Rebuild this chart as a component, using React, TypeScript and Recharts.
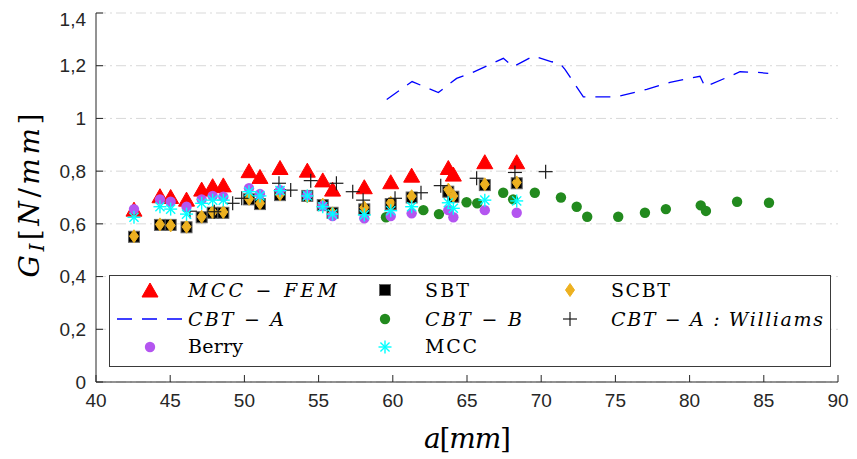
import React from 'react';
import { ScatterChart, Scatter, XAxis, YAxis, CartesianGrid, Legend, Label } from 'recharts';

// Crack lengths a [mm] shared by the experimental / analytical series
const crackLength = [42.56, 44.31, 45.03, 46.1, 47.12, 47.86, 48.58, 50.31, 51.05, 52.4, 54.24, 55.28, 55.94, 58.08, 59.86, 61.27, 63.74, 64.08, 66.2, 68.35];

const mccFemG = [0.652, 0.703, 0.7, 0.69, 0.728, 0.741, 0.744, 0.798, 0.776, 0.81, 0.8, 0.763, 0.728, 0.737, 0.756, 0.781, 0.81, 0.785, 0.832, 0.832];
const sbtG = [0.551, 0.596, 0.596, 0.587, 0.625, 0.642, 0.642, 0.693, 0.675, 0.709, 0.706, 0.671, 0.642, 0.655, 0.675, 0.7, 0.722, 0.703, 0.747, 0.754];
const scbtG = [0.553, 0.598, 0.594, 0.589, 0.627, 0.645, 0.645, 0.695, 0.678, 0.712, 0.704, 0.673, 0.64, 0.662, 0.68, 0.705, 0.73, 0.706, 0.75, 0.757];
const berryG = [0.656, 0.693, 0.684, 0.665, 0.693, 0.706, 0.703, 0.735, 0.713, 0.728, 0.709, 0.668, 0.63, 0.621, 0.63, 0.64, 0.652, 0.625, 0.652, 0.642];
const mccG = [0.625, 0.665, 0.656, 0.637, 0.678, 0.69, 0.69, 0.722, 0.706, 0.726, 0.706, 0.665, 0.637, 0.634, 0.65, 0.665, 0.68, 0.659, 0.69, 0.687];

// CBT - B
const cbtBA = [59.54, 62.06, 63.11, 64.97, 65.69, 67.44, 68.11, 69.57, 71.33, 72.39, 73.1, 75.19, 76.99, 78.4, 80.75, 81.1, 83.2, 85.35];
const cbtBG = [0.625, 0.652, 0.637, 0.682, 0.678, 0.718, 0.693, 0.718, 0.7, 0.665, 0.627, 0.627, 0.642, 0.656, 0.67, 0.649, 0.684, 0.68];

// CBT - A : Williams
const williamsA = [46.33, 47.97, 49.21, 49.82, 52.33, 53.12, 54.47, 56.2, 57.3, 58.0, 60.15, 61.9, 63.23, 65.65, 68.23, 70.3];
const williamsG = [0.648, 0.646, 0.678, 0.697, 0.754, 0.728, 0.764, 0.754, 0.722, 0.69, 0.697, 0.718, 0.745, 0.773, 0.795, 0.798];

// CBT - A (curve)
const cbtAA = [59.59, 61.3, 63.07, 64.3, 65.3, 67.45, 68.12, 69.47, 70.71, 71.27, 71.6, 72.84, 75.09, 77.11, 78.68, 80.7, 81.04, 83.4, 84.52, 85.3];
const cbtAG = [1.072, 1.14, 1.098, 1.152, 1.172, 1.228, 1.196, 1.237, 1.215, 1.209, 1.186, 1.082, 1.082, 1.11, 1.137, 1.16, 1.12, 1.177, 1.175, 1.171];

const xTicks = [40, 45, 50, 55, 60, 65, 70, 75, 80, 85, 90];
const yTicks = [0, 0.2, 0.4, 0.6, 0.8, 1, 1.2, 1.4];

const legendNames = ['MCC \u2212 FEM', 'SBT', 'SCBT', 'CBT \u2212 A', 'CBT \u2212 B', 'CBT \u2212 A : Williams', 'Berry', 'MCC'];

const zip = (xs: number[], ys: number[]) => xs.map((x, i) => ({ x, y: ys[i] }));

const mccFem = zip(crackLength, mccFemG);
const sbt = zip(crackLength, sbtG);
const scbt = zip(crackLength, scbtG);
const berry = zip(crackLength, berryG);
const mcc = zip(crackLength, mccG);
const cbtB = zip(cbtBA, cbtBG);
const williams = zip(williamsA, williamsG);
const cbtA = zip(cbtAA, cbtAG);

const RED = '#ff0000';
const GOLD = '#EDB120';
const PURPLE = '#b455f0';
const GREEN = '#228a1e';
const CYAN = '#00ffff';
const BLUE = '#0000ff';
const AXIS = '#262626';

const SERIF = 'DejaVu Serif';
const SANS = 'Liberation Sans';

// Marker glyphs
const tri = (cx: number, cy: number) => (
  <polygon points={`${cx},${cy - 8} ${cx - 8},${cy + 6} ${cx + 8},${cy + 6}`} fill={RED} stroke={RED} strokeWidth={1} />
);
const sq = (cx: number, cy: number) => (
  <rect x={cx - 5.5} y={cy - 5.5} width={11} height={11} fill="#000" stroke="#666" strokeWidth={1} />
);
const dia = (cx: number, cy: number) => (
  <polygon points={`${cx},${cy - 6.5} ${cx + 4.5},${cy} ${cx},${cy + 6.5} ${cx - 4.5},${cy}`} fill={GOLD} stroke={GOLD} strokeWidth={1} />
);
const dot = (cx: number, cy: number, color: string) => <circle cx={cx} cy={cy} r={5.2} fill={color} />;
const star = (cx: number, cy: number, s = 6.5) => (
  <g stroke={CYAN} strokeWidth={1.4}>
    <line x1={cx - s} y1={cy} x2={cx + s} y2={cy} />
    <line x1={cx} y1={cy - s} x2={cx} y2={cy + s} />
    <line x1={cx - s * 0.7} y1={cy - s * 0.7} x2={cx + s * 0.7} y2={cy + s * 0.7} />
    <line x1={cx - s * 0.7} y1={cy + s * 0.7} x2={cx + s * 0.7} y2={cy - s * 0.7} />
  </g>
);
const plus = (cx: number, cy: number) => (
  <g stroke="#1a1a1a" strokeWidth={1.2}>
    <line x1={cx - 7} y1={cy} x2={cx + 7} y2={cy} />
    <line x1={cx} y1={cy - 7} x2={cx} y2={cy + 7} />
  </g>
);

const TriShape = (p: any) => tri(p.cx, p.cy);
const SqShape = (p: any) => sq(p.cx, p.cy);
const DiaShape = (p: any) => dia(p.cx, p.cy);
const BerryShape = (p: any) => dot(p.cx, p.cy, PURPLE);
const GreenShape = (p: any) => dot(p.cx, p.cy, GREEN);
const StarShape = (p: any) => star(p.cx, p.cy);
const PlusShape = (p: any) => plus(p.cx, p.cy);
const NoShape = () => <g />;

// Legend layout: 3 columns x 3 rows, row-major
const LEG_W = 722;
const LEG_H = 92;
const colMarker = [41, 276, 461];
const colText = [79, 316, 502];
const rowBase = [22, 51, 78];
const rowMid = [15, 44, 72];
const textLen = [149, 44, 59, 96, 97, 212, 55, 52];
const italic = [true, false, false, true, true, true, false, false];

const legendMarker = (i: number, cx: number, cy: number) => {
  switch (i) {
    case 0: return tri(cx, cy + 1);
    case 1: return sq(cx, cy);
    case 2: return dia(cx, cy);
    case 3: return <line x1={cx - 33} y1={cy} x2={cx + 33} y2={cy} stroke={BLUE} strokeWidth={1.3} strokeDasharray="15 10" />;
    case 4: return dot(cx, cy, GREEN);
    case 5: return plus(cx, cy);
    case 6: return dot(cx, cy, PURPLE);
    default: return star(cx, cy);
  }
};

const LegendBox = () => (
  <svg width={LEG_W} height={LEG_H} style={{ display: 'block' }}>
    <rect x={0.5} y={0.5} width={LEG_W - 1} height={LEG_H - 1} fill="#fff" stroke="#3a3a3a" strokeWidth={1} />
    {legendNames.map((name, i) => {
      const c = i % 3;
      const r = Math.floor(i / 3);
      return (
        <g key={name}>
          {legendMarker(i, colMarker[c], rowMid[r])}
          <text
            x={colText[c]}
            y={rowBase[r]}
            fontFamily={SERIF}
            fontStyle={italic[i] ? 'italic' : 'normal'}
            fontSize={19}
            fill="#000"
            textLength={textLen[i]}
            lengthAdjust="spacing"
          >
            {name}
          </text>
        </g>
      );
    })}
  </svg>
);

const XTitle = (props: any) => {
  const vb = props.viewBox;
  const cx = vb.x + vb.width / 2;
  return (
    <text x={cx - 43} y={vb.y + 66} fontFamily={SERIF} fontSize={28} fill="#000" textLength={87} lengthAdjust="spacing">
      <tspan fontStyle="italic">a</tspan>
      <tspan>[</tspan>
      <tspan fontStyle="italic">mm</tspan>
      <tspan>]</tspan>
    </text>
  );
};

const YTitle = (props: any) => {
  const vb = props.viewBox;
  const cy = vb.y + vb.height / 2;
  return (
    <text
      transform={`translate(31, ${cy - 2}) rotate(-90)`}
      x={-82}
      y={0}
      fontFamily={SERIF}
      fontSize={28}
      fill="#000"
      textLength={164}
      lengthAdjust="spacing"
    >
      <tspan fontStyle="italic">G</tspan>
      <tspan fontStyle="italic" fontSize={20} dy={5}>I</tspan>
      <tspan dy={-5}>[</tspan>
      <tspan fontStyle="italic">N</tspan>
      <tspan>/</tspan>
      <tspan fontStyle="italic">mm</tspan>
      <tspan>]</tspan>
    </text>
  );
};

const fmt = (v: number) => String(Math.round(v * 10) / 10).replace('.', ',');

export default function App() {
  const tickStyle = { fill: AXIS, fontSize: 19, fontFamily: SANS };
  return (
    <ScatterChart width={841} height={451} margin={{ top: 5, right: 11, bottom: 37, left: 0 }}>
      <CartesianGrid horizontal vertical={false} stroke="#d9d9d9" strokeDasharray="10 4 2 4" />
      <XAxis
        type="number"
        dataKey="x"
        domain={[40, 90]}
        ticks={xTicks}
        allowDataOverflow
        height={40}
        tick={tickStyle}
        tickSize={-7}
        tickMargin={19}
        axisLine={{ stroke: AXIS }}
        tickLine={{ stroke: AXIS }}
      >
        <Label content={XTitle} />
      </XAxis>
      <XAxis
        xAxisId="top"
        orientation="top"
        type="number"
        dataKey="x"
        domain={[40, 90]}
        ticks={xTicks}
        allowDataOverflow
        height={0}
        tick={false}
        tickSize={-7}
        axisLine={{ stroke: AXIS }}
        tickLine={{ stroke: AXIS }}
      />
      <YAxis
        type="number"
        dataKey="y"
        domain={[0, 1.4]}
        ticks={yTicks}
        allowDataOverflow
        width={88}
        tick={tickStyle}
        tickFormatter={fmt}
        tickSize={-7}
        tickMargin={17}
        axisLine={{ stroke: AXIS }}
        tickLine={{ stroke: AXIS }}
      >
        <Label content={YTitle} />
      </YAxis>
      <YAxis
        yAxisId="right"
        orientation="right"
        type="number"
        dataKey="y"
        domain={[0, 1.4]}
        ticks={yTicks}
        allowDataOverflow
        width={0}
        tick={false}
        tickSize={-7}
        axisLine={{ stroke: AXIS }}
        tickLine={{ stroke: AXIS }}
      />
      <Legend
        layout="horizontal"
        verticalAlign="middle"
        align="center"
        wrapperStyle={{ left: 101, top: 267, width: LEG_W, height: LEG_H }}
        content={LegendBox}
      />
      <Scatter name="MCC - FEM" data={mccFem} shape={TriShape} isAnimationActive={false} />
      <Scatter
        name="CBT - A"
        data={cbtA}
        shape={NoShape}
        line={{ stroke: BLUE, strokeWidth: 1.3, strokeDasharray: '15 10' }}
        lineType="joint"
        isAnimationActive={false}
      />
      <Scatter name="SBT" data={sbt} shape={SqShape} isAnimationActive={false} />
      <Scatter name="SCBT" data={scbt} shape={DiaShape} isAnimationActive={false} />
      <Scatter name="CBT - B" data={cbtB} shape={GreenShape} isAnimationActive={false} />
      <Scatter name="CBT - A : Williams" data={williams} shape={PlusShape} isAnimationActive={false} />
      <Scatter name="Berry" data={berry} shape={BerryShape} isAnimationActive={false} />
      <Scatter name="MCC" data={mcc} shape={StarShape} isAnimationActive={false} />
    </ScatterChart>
  );
}
